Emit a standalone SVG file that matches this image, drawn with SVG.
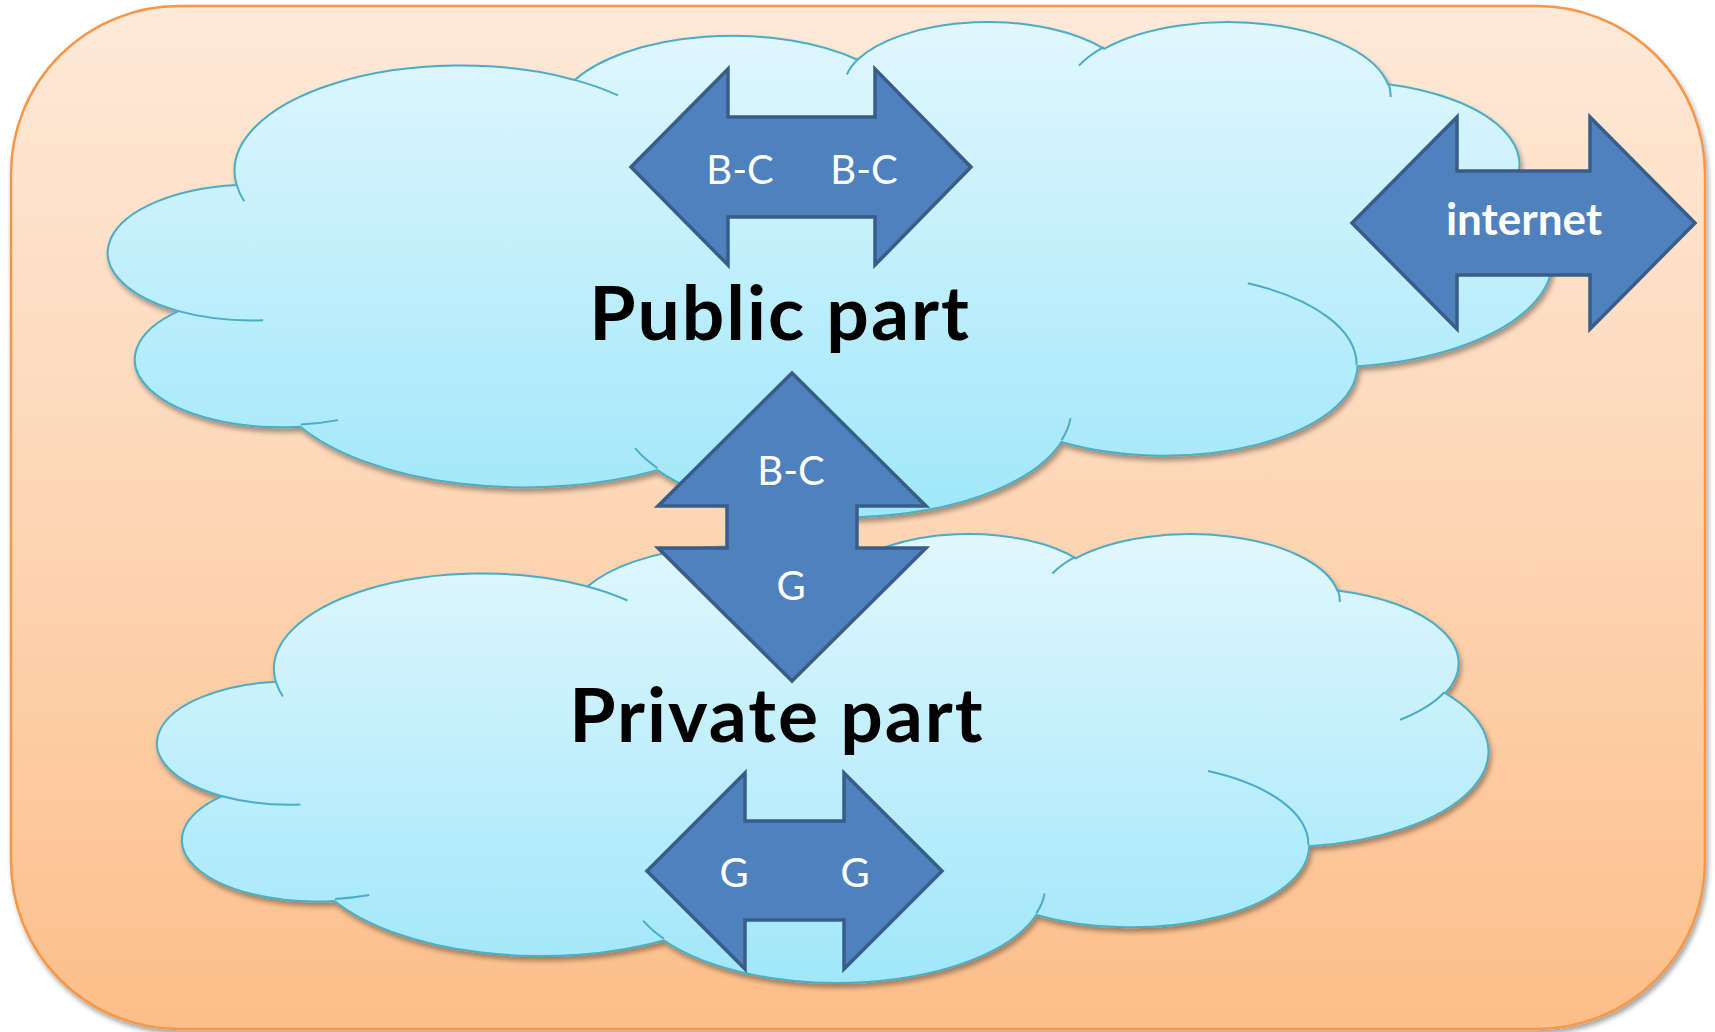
<svg xmlns="http://www.w3.org/2000/svg" width="1715" height="1032" viewBox="0 0 1715 1032">
<defs>
  <linearGradient id="bgGrad" x1="0" y1="0" x2="0" y2="1">
    <stop offset="0" stop-color="#FEE9D8"/>
    <stop offset="0.5" stop-color="#FDD6B5"/>
    <stop offset="1" stop-color="#FDBE89"/>
  </linearGradient>
  <linearGradient id="cloudGrad" x1="0" y1="0" x2="0" y2="1">
    <stop offset="0" stop-color="#E1F7FD"/>
    <stop offset="1" stop-color="#A0E7FA"/>
  </linearGradient>
  <filter id="shadow" x="-5%" y="-5%" width="115%" height="120%">
    <feDropShadow dx="2" dy="4" stdDeviation="2.5" flood-color="#000" flood-opacity="0.35"/>
  </filter>
  <path id="cloudOuter" vector-effect="non-scaling-stroke" d="M3900 14370 A6753 9190 0 0 1 14005 5202 A5333 7267 0 0 1 22457 3433 A4365 5945 0 0 1 29835 2484 A4857 6595 0 0 1 38320 5580 A5333 7273 0 0 1 41820 15464 A6775 9220 0 0 1 37405 30204 A5785 7867 0 0 1 28556 36814 A6752 9215 0 0 1 16480 39265 A7720 10543 0 0 1 5803 35468 A4360 5918 0 0 1 2160 25380 A4345 5945 0 0 1 3900 14370 Z"/>
  <path id="cloudInner" vector-effect="non-scaling-stroke" d="M4693 26177 A4345 5945 0 0 1 2160 25380 M6928 34899 A4360 5918 0 0 1 5819 35281 M16478 39090 A6752 9215 0 0 1 15810 37350 M28827 34751 A6752 9215 0 0 1 28560 36660 M34129 22954 A5785 7867 0 0 1 37380 30090 M41798 15354 A5333 7273 0 0 1 40351 18029 M38324 5426 A4857 6595 0 0 1 38400 6690 M29078 3952 A4857 6595 0 0 1 29820 2340 M22141 4720 A4365 5945 0 0 1 22500 3330 M14000 5192 A6753 9190 0 0 1 15301 6542 M4127 15789 A6753 9190 0 0 1 3900 14371"/>
</defs>
<style>
  .bg{fill:url(#bgGrad);stroke:#F79646;stroke-width:2.5}
  .cloud{fill:url(#cloudGrad);stroke:#4BACC6;stroke-width:2}
  .cloudline{fill:none;stroke:#4BACC6;stroke-width:2}
  .arrow{fill:#4F81BD;stroke:#385D8A;stroke-width:3.5;stroke-linejoin:miter}
  .lbl{font-family:Lato,"Open Sans","Liberation Sans",sans-serif;font-size:40px;fill:#FFFFFF;text-anchor:middle}
  .lblb{font-family:Lato,"Open Sans","Liberation Sans",sans-serif;font-size:44px;font-weight:bold;fill:#FFFFFF;text-anchor:middle}
  .title{font-family:Lato,"Open Sans","Liberation Sans",sans-serif;font-size:75px;font-weight:bold;letter-spacing:2px;fill:#000000;text-anchor:middle}
</style>

<g id="background" filter="url(#shadow)">
  <rect class="bg" x="11" y="6" width="1694" height="1023" rx="168" ry="168"/>
</g>

<g id="cloud-public">
  <g filter="url(#shadow)">
    <use class="cloud" href="#cloudOuter" transform="translate(106.2 20.4) scale(0.03345 0.011454)"/>
  </g>
  <use class="cloudline" href="#cloudInner" transform="translate(106.2 20.4) scale(0.03345 0.011454)"/>
  <text class="title" x="780" y="340">Public part</text>
</g>

<g id="cloud-private">
  <g filter="url(#shadow)">
    <use class="cloud" href="#cloudOuter" transform="translate(155.6 532.5) scale(0.030839 0.010389)"/>
  </g>
  <use class="cloudline" href="#cloudInner" transform="translate(155.6 532.5) scale(0.030839 0.010389)"/>
  <text class="title" x="777" y="742">Private part</text>
</g>

<g id="connectors">
  <g id="arrow-public-bc">
    <polygon class="arrow" points="631,167 728,69 728,117 875,117 875,69 971,167 875,265 875,217 728,217 728,265"/>
    <text class="lbl" x="740" y="184">B-C</text>
    <text class="lbl" x="864" y="184">B-C</text>
  </g>
  <g id="arrow-internet">
    <polygon class="arrow" points="1352,223 1457,117 1457,171 1590,171 1590,117 1695,223 1590,329 1590,275 1457,275 1457,329"/>
    <text class="lblb" x="1524" y="235">internet</text>
  </g>
  <g id="arrow-public-private">
    <polygon class="arrow" points="792,373 926,506 857,506 857,548 926,548 792,681 658,548 727,548 727,506 658,506"/>
    <text class="lbl" x="791" y="485">B-C</text>
    <text class="lbl" x="791" y="600">G</text>
  </g>
  <g id="arrow-private-g">
    <polygon class="arrow" points="647,871 745,773 745,821 844,821 844,773 942,871 844,969 844,920 745,920 745,969"/>
    <text class="lbl" x="734" y="887">G</text>
    <text class="lbl" x="855" y="887">G</text>
  </g>
</g>
</svg>
